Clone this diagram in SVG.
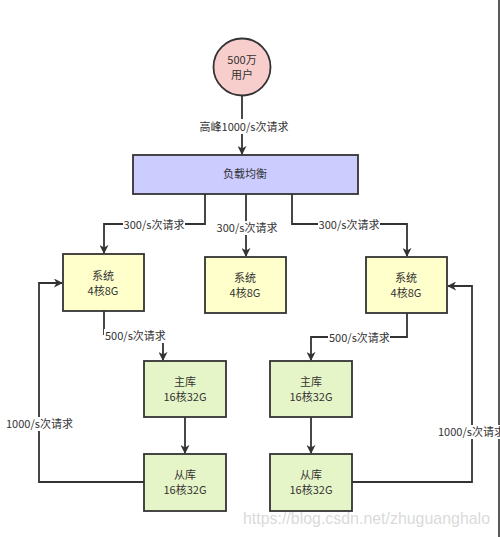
<svg xmlns="http://www.w3.org/2000/svg" width="500" height="537" viewBox="0 0 500 537">
<defs>
<marker id="arr" viewBox="0 0 10 10" refX="9" refY="5" markerWidth="5" markerHeight="5" orient="auto" markerUnits="strokeWidth">
<path d="M0,0 L10,5 L0,10 L3,5 z" fill="#333"/>
</marker>
<style>
text{font-family:"Noto Sans CJK SC","Liberation Sans",sans-serif;font-size:11px;fill:#333;}
.c{text-anchor:middle;}
.ln{fill:none;stroke:#333;stroke-width:1.8;}
.lab{fill:#fff;}
.sys{fill:#ffffcc;stroke:#333;stroke-width:1.8;}
.db{fill:#e6f5c8;stroke:#333;stroke-width:1.8;}
</style>
</defs>
<rect width="500" height="537" fill="#fff"/>
<line x1="499" y1="0" x2="499" y2="537" stroke="#222" stroke-width="1.5"/>

<g id="connectors">
<path class="ln" d="M242,95 V154" marker-end="url(#arr)"/>
<path class="ln" d="M205,194 V224 H104 V253" marker-end="url(#arr)"/>
<path class="ln" d="M246,194 V256" marker-end="url(#arr)"/>
<path class="ln" d="M292,194 V224 H407 V256" marker-end="url(#arr)"/>
<path class="ln" d="M104,311 V334 H163 V360" marker-end="url(#arr)"/>
<path class="ln" d="M407,313 V337 H311 V360" marker-end="url(#arr)"/>
<path class="ln" d="M185,417 V453" marker-end="url(#arr)"/>
<path class="ln" d="M311,417 V453" marker-end="url(#arr)"/>
<path class="ln" d="M144,482 H39 V283 H62" marker-end="url(#arr)"/>
<path class="ln" d="M352,482 H472 V286 H448" marker-end="url(#arr)"/>
<rect class="lab" x="196" y="119" width="96" height="15"/>
<text class="c" x="244" y="131">高峰1000/s次请求</text>
<rect class="lab" x="123" y="218" width="62" height="14"/>
<text class="c" x="154" y="229">300/s次请求</text>
<rect class="lab" x="216" y="221" width="62" height="14"/>
<text class="c" x="247" y="232">300/s次请求</text>
<rect class="lab" x="318" y="218" width="62" height="14"/>
<text class="c" x="349" y="229">300/s次请求</text>
<rect class="lab" x="104" y="329" width="62" height="14"/>
<text x="105" y="340">500/s次请求</text>
<rect class="lab" x="328" y="331" width="62" height="14"/>
<text x="329" y="342">500/s次请求</text>
<rect class="lab" x="5" y="417" width="68" height="14"/>
<text x="6" y="428">1000/s次请求</text>
<rect class="lab" x="437" y="425" width="63" height="14"/>
<text x="438" y="436">1000/s次请求</text>
</g>

<g id="users">
<circle cx="242" cy="67" r="28.5" fill="#f8cecc" stroke="#333" stroke-width="1.8"/>
<text class="c" x="242" y="64">500万</text>
<text class="c" x="242" y="79">用户</text>
</g>
<g id="lb">
<rect x="133" y="155" width="225" height="39" fill="#ccccff" stroke="#333" stroke-width="1.8"/>
<text class="c" x="245" y="178">负载均衡</text>
</g>
<g id="sys1">
<rect class="sys" x="63" y="254" width="81" height="57"/>
<text class="c" x="103" y="280">系统</text>
<text class="c" x="103" y="295">4核8G</text>
</g>
<g id="sys2">
<rect class="sys" x="205" y="257" width="81" height="56"/>
<text class="c" x="245" y="282">系统</text>
<text class="c" x="245" y="297">4核8G</text>
</g>
<g id="sys3">
<rect class="sys" x="366" y="257" width="81" height="56"/>
<text class="c" x="406" y="282">系统</text>
<text class="c" x="406" y="297">4核8G</text>
</g>
<g id="master1">
<rect class="db" x="144" y="361" width="82" height="56"/>
<text class="c" x="185" y="386">主库</text>
<text class="c" x="185" y="401">16核32G</text>
</g>
<g id="slave1">
<rect class="db" x="144" y="454" width="82" height="57"/>
<text class="c" x="185" y="479">从库</text>
<text class="c" x="185" y="494">16核32G</text>
</g>
<g id="master2">
<rect class="db" x="270" y="361" width="82" height="56"/>
<text class="c" x="311" y="386">主库</text>
<text class="c" x="311" y="401">16核32G</text>
</g>
<g id="slave2">
<rect class="db" x="270" y="454" width="82" height="57"/>
<text class="c" x="311" y="479">从库</text>
<text class="c" x="311" y="494">16核32G</text>
</g>
<text x="243" y="524" textLength="247" lengthAdjust="spacingAndGlyphs" style="font-family:'Liberation Sans',sans-serif;font-size:17px;fill:#d0d0d0;fill-opacity:0.8">https://blog.csdn.net/zhuguanghalo</text>
</svg>
